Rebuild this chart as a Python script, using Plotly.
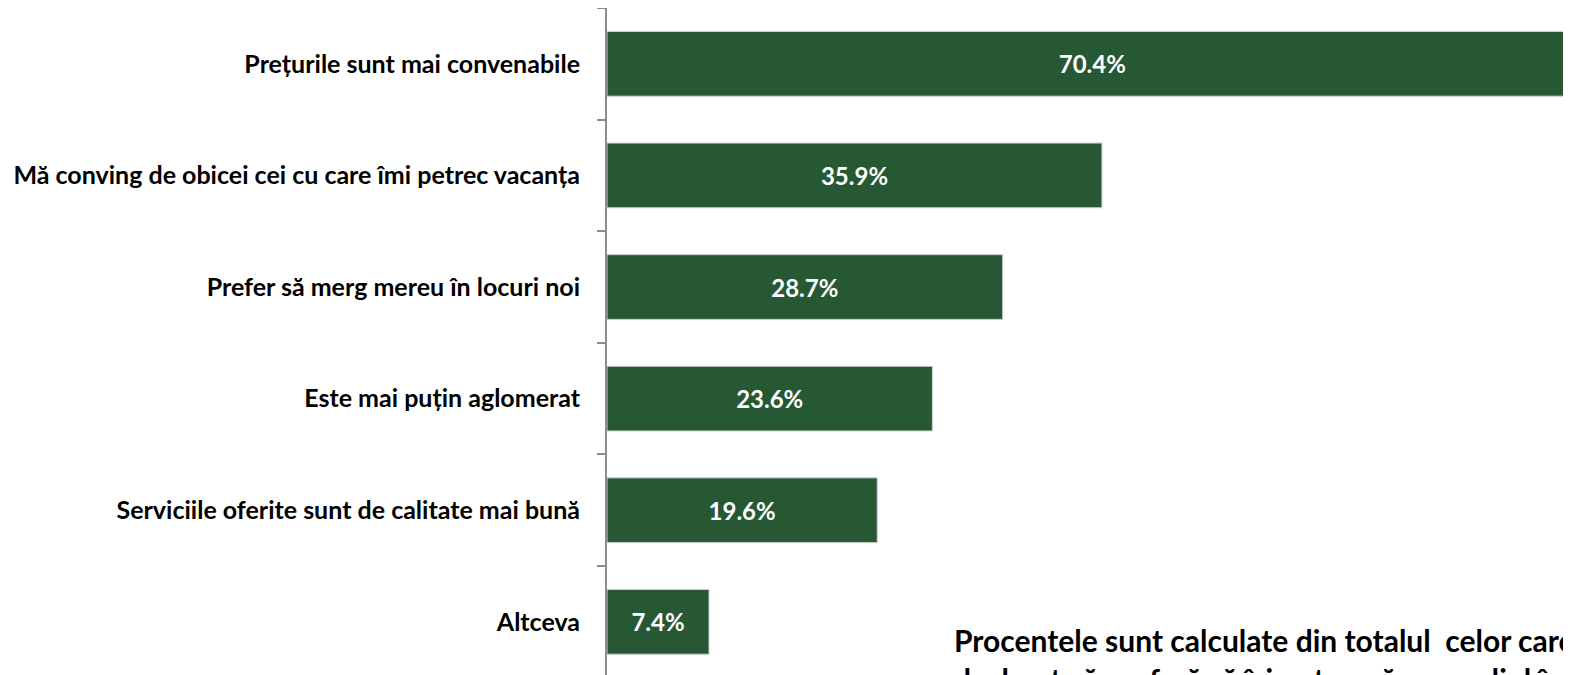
import plotly.graph_objects as go

# motive (de sus in jos) si procente
motive = [
    "Prețurile sunt mai convenabile",
    "Mă conving de obicei cei cu care îmi petrec vacanța",
    "Prefer să merg mereu în locuri noi",
    "Este mai puțin aglomerat",
    "Serviciile oferite sunt de calitate mai bună",
    "Altceva",
]
procente = [70.4, 35.9, 28.7, 23.6, 19.6, 7.4]
etichete = [f"{v:.1f}%" for v in procente]

nota = ("Procentele sunt calculate din totalul  celor care au<br>"
        "declarat că preferă să își petreacă concediul în străinătate")

verde = "#265833"
font_nume = "Lato, Carlito, Calibri, sans-serif"

fig = go.Figure(go.Bar(
    x=procente, y=motive,
    orientation="h",
    marker=dict(color=verde, line=dict(color="#d0d0d0", width=1)),
    text=etichete,
    textposition="inside",
    insidetextanchor="middle",
    textangle=0,
    textfont=dict(family=font_nume, size=24, color="white", weight="bold"),
    cliponaxis=True,
))

# the page body adds an 8px offset, so margins are shifted by 8px
fig.update_layout(
    width=1571, height=675,
    margin=dict(l=599, r=0, t=0, b=0),
    plot_bgcolor="white", paper_bgcolor="white",
    bargap=0.42,
    showlegend=False,
    xaxis=dict(range=[0, 70.5], visible=False, fixedrange=True),
    yaxis=dict(
        type="category",
        categoryorder="array", categoryarray=motive,
        range=[5.548, -0.5],
        automargin=False,
        showline=True, linecolor="#8c8c8c", linewidth=2,
        ticks="outside", tickson="boundaries", ticklen=8,
        tickcolor="#8c8c8c", tickwidth=2,
        ticklabelstandoff=20,
        tickfont=dict(family=font_nume, size=25, color="black", weight="bold"),
        showgrid=False, zeroline=False,
    ),
    annotations=[dict(
        text=nota, xref="paper", yref="paper",
        x=0.355, y=0.094, xanchor="left", yanchor="top",
        align="left", showarrow=False,
        font=dict(family=font_nume, size=30, color="black", weight="bold"),
    )],
)

fig.write_html("out.html")
